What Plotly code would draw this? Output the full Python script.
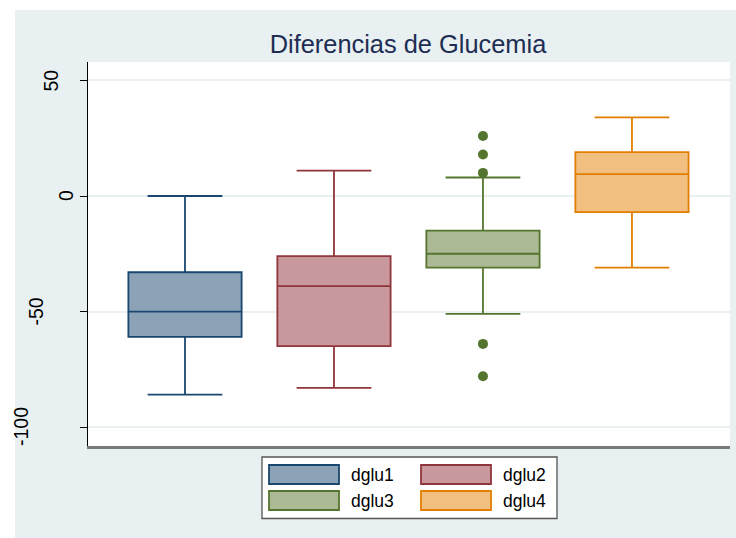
import plotly.graph_objects as go

# ---- data ----
names = ["dglu1", "dglu2", "dglu3", "dglu4"]
q1 = [-61, -65, -31, -7]
median = [-50, -39, -25, 9.5]
q3 = [-33, -26, -15, 19]
lowerfence = [-86, -83, -51, -31]
upperfence = [0, 11, 8, 34]
outlier_group = ["dglu3", "dglu3", "dglu3", "dglu3", "dglu3"]
outlier_values = [26, 18, 10, -64, -78]
ytick_vals = [-100, -50, 0, 50]
ytick_text = ["-100", "-50", "0", "50"]
title_text = "Diferencias de Glucemia"

line_colors = ["#1a476f", "#90353b", "#55752f", "#e37e00"]
fill_colors = ["#8ca3b7", "#c8989c", "#abba94", "#f1bf7f"]
bg = "#e8f0f2"

W, H = 736, 538
L, R, T, B = 88, 730, 62, 446  # plot area in pixels


def px(x):
    return (x - L) / (R - L)


def py(y):
    return (B - y) / (B - T)


fig = go.Figure()
for i, n in enumerate(names):
    fig.add_trace(go.Box(
        x=[n], q1=[q1[i]], median=[median[i]], q3=[q3[i]],
        lowerfence=[lowerfence[i]], upperfence=[upperfence[i]],
        name=n, width=0.76, whiskerwidth=0.66,
        line=dict(color=line_colors[i], width=1.8),
        fillcolor=fill_colors[i], boxpoints=False,
        showlegend=False, hoverinfo="skip",
    ))

fig.add_trace(go.Scatter(
    x=outlier_group, y=outlier_values, mode="markers",
    marker=dict(color="#55752f", size=10), showlegend=False, hoverinfo="skip",
))

shapes = [
    # white strips outside the light graph region
    dict(type="rect", xref="paper", yref="paper", x0=px(-5), x1=px(15), y0=py(-5), y1=py(545),
         fillcolor="white", line=dict(width=0), layer="below"),
    dict(type="rect", xref="paper", yref="paper", x0=px(-5), x1=px(745), y0=py(-5), y1=py(10),
         fillcolor="white", line=dict(width=0), layer="below"),
    # legend frame
    dict(type="rect", xref="paper", yref="paper", x0=px(262), x1=px(557), y0=py(457), y1=py(518.5),
         fillcolor="white", line=dict(color="#555555", width=1.3)),
]
annotations = []
legend_pos = [(269, 339, 465, 484), (421, 491, 465, 484), (269, 339, 491, 510), (421, 491, 491, 510)]
for i, n in enumerate(names):
    x0, x1, y0, y1 = legend_pos[i]
    shapes.append(dict(type="rect", xref="paper", yref="paper", x0=px(x0), x1=px(x1), y0=py(y0), y1=py(y1),
                       fillcolor=fill_colors[i], line=dict(color=line_colors[i], width=1.8)))
    annotations.append(dict(xref="paper", yref="paper", x=px(x1 + 10), y=py((y0 + y1) / 2),
                            text=n, showarrow=False, xanchor="left", yanchor="middle",
                            font=dict(family="Liberation Sans, Arial", size=17.5, color="black")))

# rotated y tick labels (staggered like the reference rendering)
for v, t in zip(ytick_vals, ytick_text):
    annotations.append(dict(xref="paper", yref="y", x=px(81 - 15 * len(t)), y=v,
                            text=t, showarrow=False, textangle=-90,
                            xanchor="center", yanchor="middle",
                            font=dict(family="Liberation Sans, Arial", size=19.5, color="black")))

fig.update_layout(
    width=W, height=H,
    margin=dict(l=L, r=W - R, t=T, b=H - B, pad=0),
    paper_bgcolor=bg, plot_bgcolor="white",
    title=dict(text=title_text, x=px(408), xref="paper", xanchor="center",
               y=1 - 53 / H, yanchor="bottom", yref="container",
               font=dict(family="Liberation Sans, Arial", size=25.4, color="#1e2d53")),
    font=dict(family="Liberation Sans, Arial", color="black"),
    boxmode="overlay",
    shapes=shapes, annotations=annotations,
    xaxis=dict(type="category", range=[-0.651, 3.658], showticklabels=False, ticks="",
               showgrid=False, zeroline=False, showline=True, linecolor="#7a7a7a", linewidth=2.5),
    yaxis=dict(range=[-108.2, 58.0], tickvals=ytick_vals, showticklabels=False,
               ticks="outside", ticklen=7, tickcolor="black", tickwidth=1,
               showgrid=True, gridcolor="#e8f0f2", gridwidth=1.5, zeroline=False,
               showline=True, linecolor="black", linewidth=1),
)

fig.write_html("out.html", config={"displayModeBar": False},
               post_script="document.body.style.margin='0';document.body.style.overflow='hidden';")
